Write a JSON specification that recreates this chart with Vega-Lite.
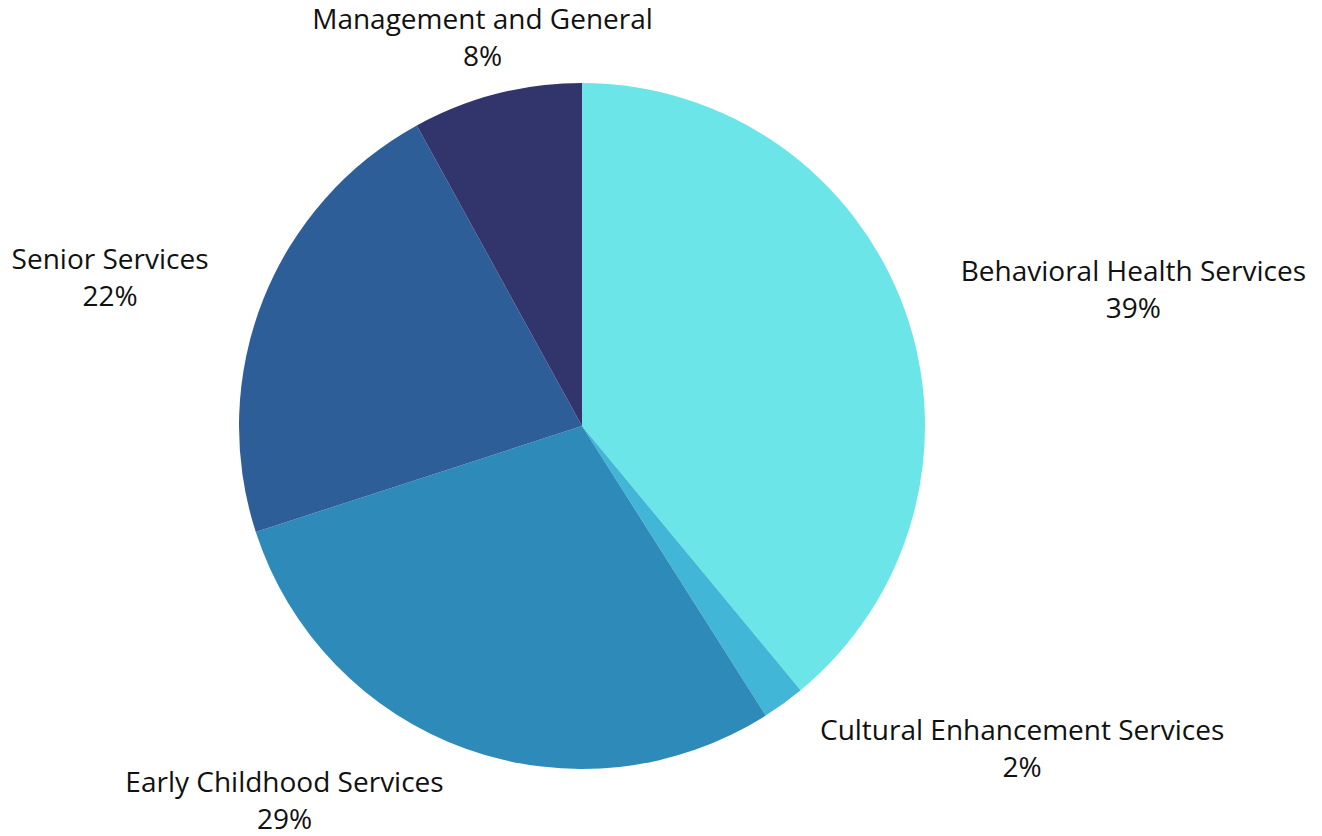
{
  "$schema": "https://vega.github.io/schema/vega-lite/v6.json",
  "width": 1164,
  "height": 820,
  "autosize": "none",
  "padding": {"left": 0, "top": 16, "right": 158, "bottom": 0},
  "background": "white",
  "view": {"stroke": null},
  "data": {
    "values": [
      {"category": "Behavioral Health Services", "share": 39, "seq": 1},
      {"category": "Cultural Enhancement Services", "share": 2, "seq": 2},
      {"category": "Early Childhood Services", "share": 29, "seq": 3},
      {"category": "Senior Services", "share": 22, "seq": 4},
      {"category": "Management and General", "share": 8, "seq": 5}
    ]
  },
  "transform": [
    {"calculate": "[datum.category, datum.share + '%']", "as": "label"}
  ],
  "encoding": {
    "theta": {"field": "share", "type": "quantitative", "stack": true},
    "order": {"field": "seq", "type": "quantitative"}
  },
  "layer": [
    {
      "mark": {"type": "arc", "outerRadius": 343},
      "encoding": {
        "color": {
          "field": "category",
          "type": "nominal",
          "legend": null,
          "scale": {
            "domain": ["Behavioral Health Services", "Cultural Enhancement Services", "Early Childhood Services", "Senior Services", "Management and General"],
            "range": ["#6ce5e8", "#42b6d6", "#2d8ab9", "#2e5e98", "#31356b"]
          }
        }
      }
    },
    {
      "mark": {
        "type": "text",
        "radius": 400,
        "font": "Open Sans",
        "fontSize": 28,
        "lineHeight": 37,
        "color": "#111111",
        "align": "center",
        "baseline": "middle",
        "dy": -18,
        "dx": {"expr": "datum.category == 'Behavioral Health Services' ? 175 : datum.category == 'Cultural Enhancement Services' ? 205 : datum.category == 'Early Childhood Services' ? -162 : datum.category == 'Senior Services' ? -100 : 0"}
      },
      "encoding": {
        "text": {"field": "label"}
      }
    }
  ]
}
